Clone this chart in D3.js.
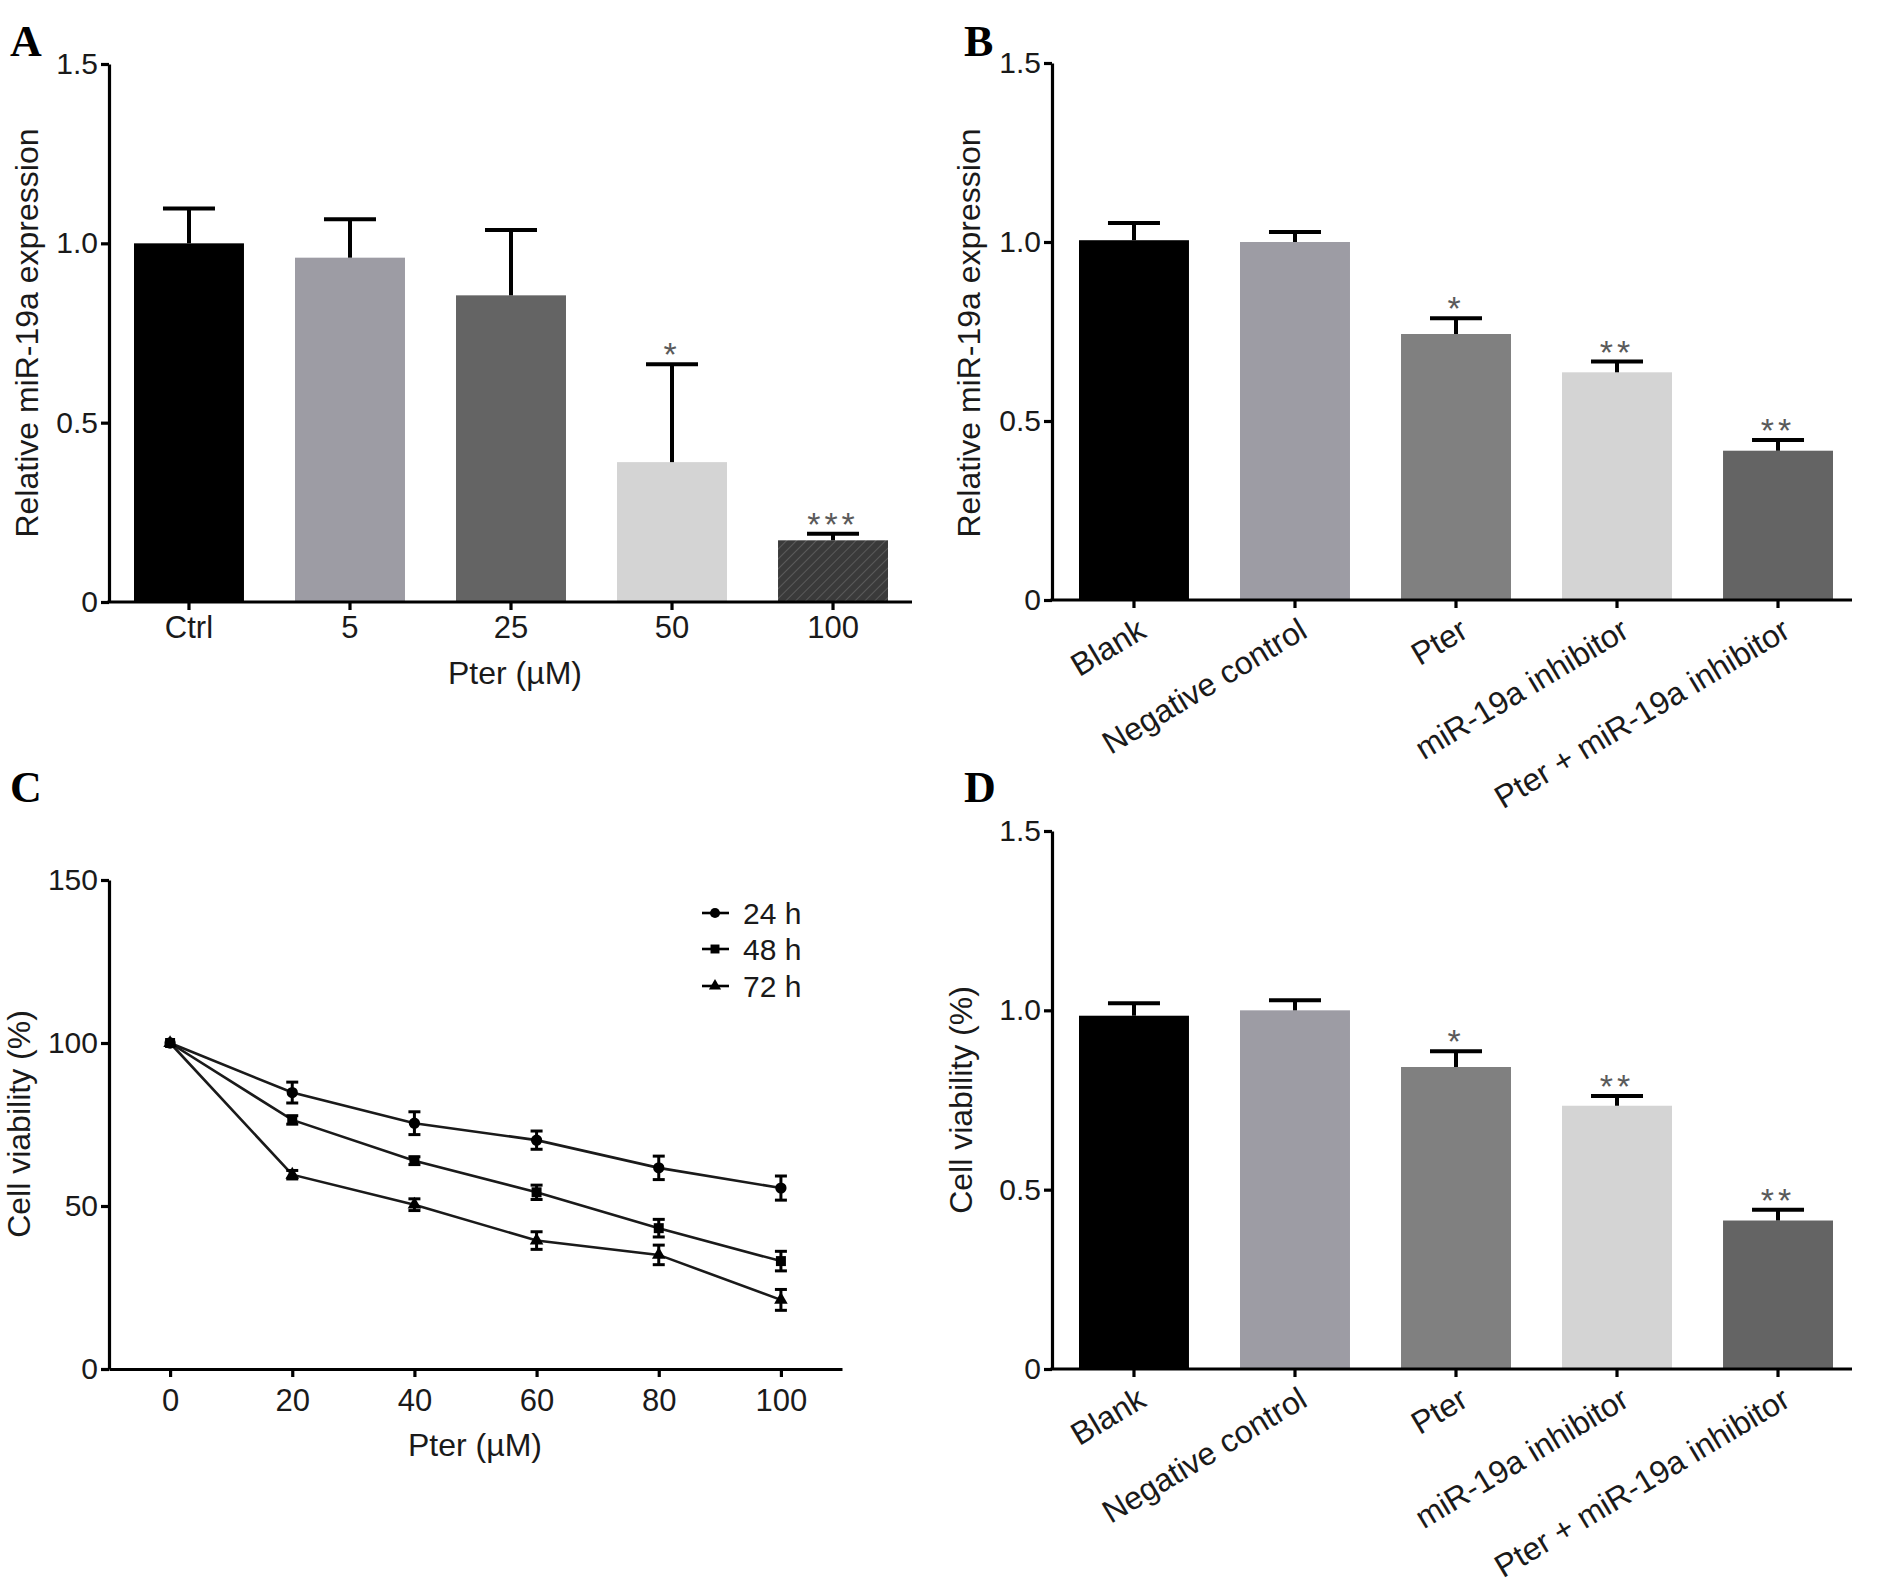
<!DOCTYPE html>
<html><head><meta charset="utf-8">
<script src="https://cdn.jsdelivr.net/npm/d3@7/dist/d3.min.js"></script>
<style>body{margin:0;background:#fff;}</style>
</head><body><svg id="c" width="1890" height="1594" style="font-family:'Liberation Sans',Arial,sans-serif"></svg>
<script>
// Panel A
const catsA = ["Ctrl","5","25","50","100"];
const meanA = [1.0, 0.96, 0.855, 0.39, 0.172];
const errA  = [0.097, 0.107, 0.182, 0.273, 0.018];
const sigA  = ["", "", "", "*", "***"];
const colA  = ["#000000","#9d9ca4","#646464","#d4d4d4","hatch"];
// Panel B
const catsB = ["Blank","Negative control","Pter","miR-19a inhibitor","Pter + miR-19a inhibitor"];
const meanB = [1.005, 1.0, 0.743, 0.636, 0.417];
const errB  = [0.048, 0.028, 0.044, 0.03, 0.03];
const sigB  = ["", "", "*", "**", "**"];
const colB  = ["#000000","#9d9ca4","#808080","#d4d4d4","#646464"];
// Panel D
const meanD = [0.985, 1.0, 0.842, 0.734, 0.414];
const errD  = [0.035, 0.028, 0.044, 0.027, 0.03];
const sigD  = ["", "", "*", "**", "**"];
// Panel C
const xC  = [0, 20, 40, 60, 80, 100];
const v24 = [100, 84.8, 75.4, 70.2, 61.7, 55.5];
const e24 = [0, 3.2, 3.5, 2.8, 3.6, 3.7];
const v48 = [100, 76.4, 63.9, 54.2, 43.2, 33.1];
const e48 = [0, 1.3, 1.2, 2.2, 2.7, 3.0];
const v72 = [100, 59.6, 50.4, 39.4, 35.0, 21.2];
const e72 = [0, 1.3, 1.8, 2.7, 3.0, 3.2];
const seriesC = ["24 h","48 h","72 h"];
const barTicks = [0, 0.5, 1.0, 1.5];
const lineTicksY = [0, 50, 100, 150];

const SANS = "'Liberation Sans', Arial, sans-serif";
const FS = 32, FY = 30, FX = 31;
const svg = d3.select("#c");
svg.append("rect").attr("width",1890).attr("height",1594).attr("fill","#fff");
const defs = svg.append("defs");
const pat = defs.append("pattern").attr("id","hatch").attr("patternUnits","userSpaceOnUse")
  .attr("width",7).attr("height",7).attr("patternTransform","rotate(45)");
pat.append("rect").attr("width",7).attr("height",7).attr("fill","#3a3a3a");
pat.append("line").attr("x1",0).attr("y1",0).attr("x2",0).attr("y2",7).attr("stroke","#5a5a5a").attr("stroke-width",2);

const AX = 3.2, TK = "#1a1a1a";
function styleAxis(g, fs){
  g.attr("font-family",null).attr("font-size",null);
  g.selectAll("path.domain").attr("stroke","#000").attr("stroke-width",AX);
  g.selectAll(".tick line").attr("stroke","#000").attr("stroke-width",AX);
  g.selectAll(".tick text").style("font-size",fs+"px").attr("fill",TK).style("font-family",SANS);
}
function panelLabel(t,x,y){
  svg.append("text").attr("x",x).attr("y",y).text(t)
    .style("font-family","'Liberation Serif','Times New Roman',serif")
    .style("font-weight","bold").style("font-size","44px").attr("fill","#000");
}
function yTitle(t,cx,cy){
  svg.append("text").attr("transform",`translate(${cx},${cy}) rotate(-90)`).attr("text-anchor","middle")
    .style("font-size",FS+"px").attr("fill",TK).text(t);
}

function barPanel(o){
  const y = d3.scaleLinear().domain([0,1.5]).range([o.y0,o.yTop]);
  const x = d3.scaleBand().domain(o.cats).range([o.b0,o.b1]).paddingInner(0.317).paddingOuter(0);
  const g = svg.append("g");
  g.selectAll("rect.bar").data(o.cats).join("rect").attr("class","bar")
    .attr("x",d=>x(d)).attr("width",x.bandwidth())
    .attr("y",(d,i)=>y(o.mean[i])).attr("height",(d,i)=>o.y0-y(o.mean[i]))
    .attr("fill",(d,i)=>o.col[i]==="hatch"?"url(#hatch)":o.col[i]);
  const cw = 52;
  o.cats.forEach((c,i)=>{
    const cx = x(c)+x.bandwidth()/2, yt = y(o.mean[i]), ye = y(o.mean[i]+o.err[i]);
    g.append("line").attr("x1",cx).attr("x2",cx).attr("y1",yt).attr("y2",ye).attr("stroke","#000").attr("stroke-width",4);
    g.append("line").attr("x1",cx-cw/2).attr("x2",cx+cw/2).attr("y1",ye).attr("y2",ye).attr("stroke","#000").attr("stroke-width",4);
    if(o.sig[i]) g.append("text").attr("x",cx).attr("y",ye+2).attr("text-anchor","middle")
      .style("font-size","34px").attr("fill","#5a5a5a").style("letter-spacing","4px").text(o.sig[i]);
  });
  const ya = g.append("g").attr("transform",`translate(${o.x0},0)`)
    .call(d3.axisLeft(y).tickValues(barTicks).tickSize(8).tickSizeOuter(0).tickPadding(3)
      .tickFormat(d=>d===0?"0":d3.format(".1f")(d)));
  styleAxis(ya, FY);
  const xa = g.append("g").attr("transform",`translate(0,${o.y0})`)
    .call(d3.axisBottom(x).tickSize(8).tickSizeOuter(0).tickPadding(8));
  xa.select("path.domain").remove();
  styleAxis(xa, o.rot ? FS : FX);
  g.append("line").attr("x1",o.x0-1.6).attr("x2",o.x1).attr("y1",o.y0).attr("y2",o.y0).attr("stroke","#000").attr("stroke-width",AX);
  if(o.rot){
    xa.selectAll(".tick text").attr("text-anchor","end").attr("dy",null).attr("y",null)
      .attr("transform","translate(14,36) rotate(-31)");
  } else {
    xa.selectAll(".tick text").attr("dy","0.71em").attr("y",14);
  }
  return {x,y};
}

// Panel A
panelLabel("A",10,56);
barPanel({cats:catsA,mean:meanA,err:errA,sig:sigA,col:colA,x0:109,x1:912,yTop:64,y0:602,b0:134,b1:888});
yTitle("Relative miR-19a expression",38,333);
svg.append("text").attr("x",515).attr("y",684).attr("text-anchor","middle").style("font-size",FS+"px").attr("fill",TK).text("Pter (µM)");

// Panel B
panelLabel("B",964,56);
barPanel({cats:catsB,mean:meanB,err:errB,sig:sigB,col:colB,x0:1052,x1:1852,yTop:63,y0:600,b0:1079,b1:1833,rot:true});
yTitle("Relative miR-19a expression",980,333);

// Panel D
panelLabel("D",964,802);
barPanel({cats:catsB,mean:meanD,err:errD,sig:sigD,col:colB,x0:1052,x1:1852,yTop:831,y0:1369,b0:1079,b1:1833,rot:true});
yTitle("Cell viability (%)",972,1100);

// Panel C
panelLabel("C",10,802);
(function(){
  const x0=109,x1=842,yTop=880,y0=1369;
  const x = d3.scaleLinear().domain([-10,110]).range([x0,x1]);
  const y = d3.scaleLinear().domain([0,150]).range([y0,yTop]);
  const g = svg.append("g");
  const ya = g.append("g").attr("transform",`translate(${x0},0)`)
    .call(d3.axisLeft(y).tickValues(lineTicksY).tickSize(8).tickSizeOuter(0).tickPadding(3));
  styleAxis(ya, FY);
  const xa = g.append("g").attr("transform",`translate(0,${y0})`)
    .call(d3.axisBottom(x).tickValues(xC).tickSize(8).tickSizeOuter(0).tickPadding(12));
  styleAxis(xa, FX);
  const data = [v24,v48,v72], errs=[e24,e48,e72];
  const shapes = [d3.symbolCircle, d3.symbolSquare, d3.symbolTriangle];
  const sizes = [100, 100, 80];
  const line = d3.line().x((d,i)=>x(xC[i])).y(d=>y(d));
  data.forEach((vals,k)=>{
    g.append("path").attr("d",line(vals)).attr("fill","none").attr("stroke","#1a1a1a").attr("stroke-width",2.6);
  });
  data.forEach((vals,k)=>{
    vals.forEach((v,i)=>{
      const cx=x(xC[i]), e=errs[k][i];
      if(e>0){
        const ya1=y(v+e), ya2=y(v-e);
        g.append("line").attr("x1",cx).attr("x2",cx).attr("y1",ya1).attr("y2",ya2).attr("stroke","#000").attr("stroke-width",3);
        [ya1,ya2].forEach(yy=>g.append("line").attr("x1",cx-6).attr("x2",cx+6).attr("y1",yy).attr("y2",yy).attr("stroke","#000").attr("stroke-width",3));
      }
      g.append("path").attr("d",d3.symbol().type(shapes[k]).size(sizes[k])())
        .attr("transform",`translate(${cx},${y(v)})`).attr("fill","#000");
    });
  });
  const ly=[913,949,986];
  seriesC.forEach((s,k)=>{
    g.append("line").attr("x1",702).attr("x2",729).attr("y1",ly[k]).attr("y2",ly[k]).attr("stroke","#000").attr("stroke-width",2.6);
    g.append("path").attr("d",d3.symbol().type(shapes[k]).size(sizes[k]*0.8)()).attr("transform",`translate(715,${ly[k]})`).attr("fill","#000");
    g.append("text").attr("x",743).attr("y",ly[k]).attr("dy","0.36em").style("font-size","30px").attr("fill",TK).text(s);
  });
  yTitle("Cell viability (%)",30,1124);
  svg.append("text").attr("x",475).attr("y",1456).attr("text-anchor","middle").style("font-size",FS+"px").attr("fill",TK).text("Pter (µM)");
})();
</script></body></html>
